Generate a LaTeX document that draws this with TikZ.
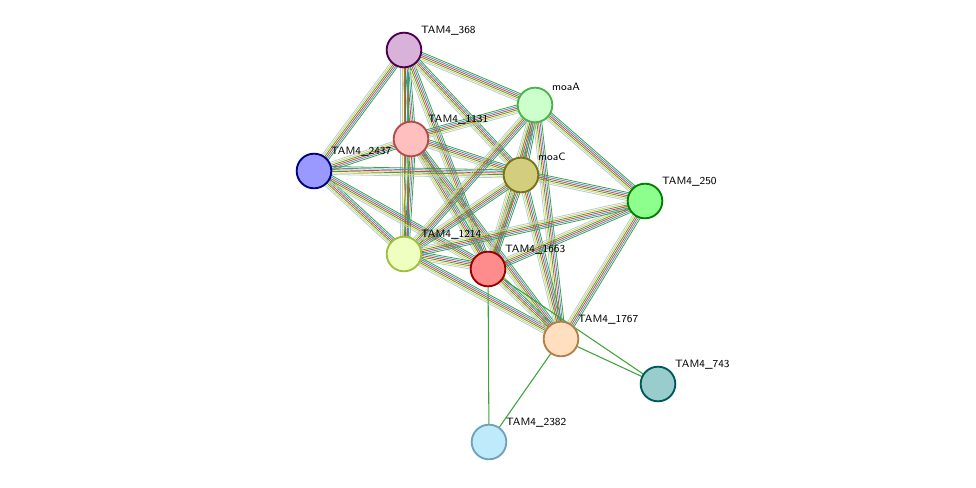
\documentclass[tikz,border=0pt]{standalone}
\usetikzlibrary{calc}
\definecolor{edgegreen}{HTML}{3DA33D}
\definecolor{edgeblue}{HTML}{4A8FD0}
\definecolor{edgered}{HTML}{E0403A}
\definecolor{edgeyellow}{HTML}{E8C84A}
\definecolor{edgepale}{HTML}{A8CFE8}
\tikzset{
  prot/.style 2 args={circle, fill=#1, draw=#2, line width=1.4pt, minimum size=26pt, inner sep=0pt},
  lbl/.style={font=\sffamily\fontsize{8}{9}\selectfont, anchor=south west, inner sep=1pt},
  single/.style={draw=edgegreen, line width=0.8pt}
}
\newcommand{\bundle}[2]{%
  \foreach \k/\c in {-2.4pt/edgepale, -1.2pt/edgeyellow, 0pt/edgegreen, 1.2pt/edgered, 2.4pt/edgeblue, 3.6pt/edgegreen}
    \draw[\c, line width=0.6pt] ($(#1)!\k!90:(#2)$) -- ($(#2)!\k!-90:(#1)$);}
\begin{document}
\begin{tikzpicture}[x=0.75pt, y=-0.75pt]
  \useasboundingbox (0,0) rectangle (976,488);
  % node places
  \coordinate (p368) at (404,50);
  \coordinate (pmoaA) at (535,105);
  \coordinate (p1131) at (411,139);
  \coordinate (p2437) at (314,171);
  \coordinate (pmoaC) at (521,175);
  \coordinate (p250) at (645,201);
  \coordinate (p1214) at (404,254);
  \coordinate (p1663) at (488,269);
  \coordinate (p1767) at (561,339);
  \coordinate (p743) at (658,384);
  \coordinate (p2382) at (489,442);
  % evidence bundles
  \foreach \a/\b in {368/1131, 368/1214, 368/1663, 368/moaA, 368/moaC, 368/2437,
    1131/moaC, 1131/2437, 1131/1214, 1131/1663, 1131/moaA, 1131/1767,
    2437/1214, 2437/1663, 2437/moaC, moaA/moaC, moaA/250, moaA/1214,
    moaA/1663, moaA/1767, moaC/250, moaC/1214, moaC/1663, moaC/1767,
    250/1663, 250/1214, 250/1767, 1214/1663, 1214/1767, 1663/1767}
    {\bundle{p\a}{p\b}}
  \draw[single] (p1663) -- (p2382);
  \draw[single] (p1767) -- (p2382);
  \draw[single] (p1767) -- (p743);
  \draw[single] (p1663) -- (p743);
  % proteins
  \node[prot={violet!30}{violet!60!black}] (n368) at (p368) {};
  \node[prot={green!20}{green!40!gray}] (nmoaA) at (pmoaA) {};
  \node[prot={red!25}{red!40!gray}] (n1131) at (p1131) {};
  \node[prot={blue!40}{blue!50!black}] (n2437) at (p2437) {};
  \node[prot={olive!40}{olive!80!black}] (nmoaC) at (pmoaC) {};
  \node[prot={green!45}{green!50!black}] (n250) at (p250) {};
  \node[prot={lime!25}{lime!50!gray}] (n1214) at (p1214) {};
  \node[prot={red!45}{red!60!black}] (n1663) at (p1663) {};
  \node[prot={orange!25}{orange!40!gray}] (n1767) at (p1767) {};
  \node[prot={teal!40}{teal!70!black}] (n743) at (p743) {};
  \node[prot={cyan!25}{cyan!40!gray}] (n2382) at (p2382) {};
  % labels
  \node[lbl] at ([xshift=2pt]n368.north east) {TAM4\_368};
  \node[lbl] at ([xshift=2pt]nmoaA.north east) {moaA};
  \node[lbl] at ([xshift=2pt]n1131.north east) {TAM4\_1131};
  \node[lbl] at ([xshift=2pt]n2437.north east) {TAM4\_2437};
  \node[lbl] at ([xshift=2pt]nmoaC.north east) {moaC};
  \node[lbl] at ([xshift=2pt]n250.north east) {TAM4\_250};
  \node[lbl] at ([xshift=2pt]n1214.north east) {TAM4\_1214};
  \node[lbl] at ([xshift=2pt]n1663.north east) {TAM4\_1663};
  \node[lbl] at ([xshift=2pt]n1767.north east) {TAM4\_1767};
  \node[lbl] at ([xshift=2pt]n743.north east) {TAM4\_743};
  \node[lbl] at ([xshift=2pt]n2382.north east) {TAM4\_2382};
\end{tikzpicture}
\end{document}
